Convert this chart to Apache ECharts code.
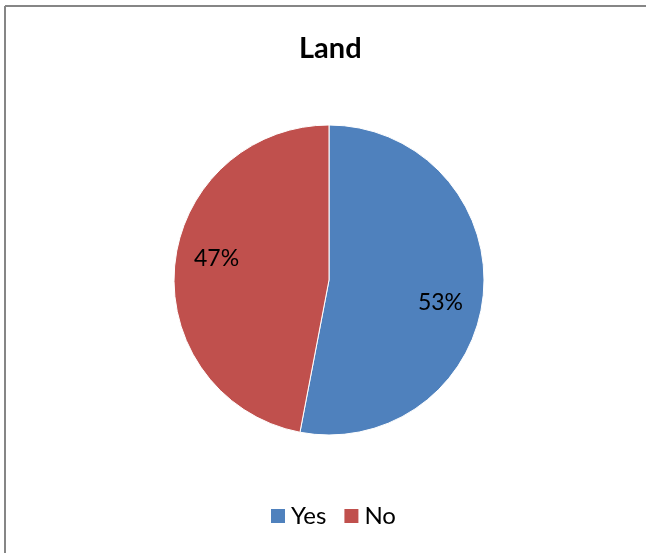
<!DOCTYPE html>
<html>
<head>
<meta charset="utf-8">
<script src="https://cdn.jsdelivr.net/npm/echarts@6/dist/echarts.min.js"></script>
<style>
  html, body { margin: 0; padding: 0; background: #fff; }
  #chart { width: 646px; height: 553px; }
</style>
</head>
<body>
<div id="chart"></div>
<script>
// Share of respondents with land
const categories = ['Yes', 'No'];
const shares = [53, 47];
const sliceColors = ['#4F81BD', '#C0504D'];
// small nudges for the percentage labels
const labelNudges = [[-3, 12], [2, -11]];

const font = 'Lato, "Open Sans", sans-serif';

const pieData = categories.map((name, i) => ({
  name: name,
  value: shares[i],
  itemStyle: { color: sliceColors[i] }
}));

const labelData = categories.map((name, i) => ({
  name: name,
  value: shares[i],
  label: { offset: labelNudges[i] }
}));

const chart = echarts.init(document.getElementById('chart'), null, { renderer: 'canvas' });
chart.setOption({
  backgroundColor: '#ffffff',
  animation: false,
  title: {
    text: 'Land',
    left: 294,
    top: 29,
    textStyle: { fontFamily: font, fontWeight: 'bold', fontSize: 29, color: '#000' }
  },
  legend: {
    data: categories,
    bottom: 20,
    left: 266,
    icon: 'rect',
    itemWidth: 14,
    itemHeight: 14,
    itemGap: 18,
    itemStyle: { borderWidth: 0 },
    textStyle: { fontFamily: font, fontSize: 24, color: '#000', lineHeight: 24, padding: [0, 0, 0, 1] }
  },
  graphic: [
    { type: 'line', shape: { x1: 5, y1: 6, x2: 646, y2: 6 }, style: { stroke: '#868686', lineWidth: 2 } },
    { type: 'line', shape: { x1: 5, y1: 6, x2: 5, y2: 553 }, style: { stroke: '#868686', lineWidth: 2 } }
  ],
  series: [
    {
      type: 'pie',
      center: [329, 280],
      radius: [0, 155],
      startAngle: 90,
      clockwise: true,
      label: { show: false },
      labelLine: { show: false },
      itemStyle: { borderColor: '#ffffff', borderWidth: 1 },
      emphasis: { disabled: true },
      data: pieData
    },
    {
      // transparent ring that carries the percentage labels
      type: 'pie',
      center: [329, 280],
      radius: [69, 155],
      startAngle: 90,
      clockwise: true,
      silent: true,
      legendHoverLink: false,
      itemStyle: { color: 'rgba(0,0,0,0)' },
      label: {
        show: true,
        position: 'inside',
        formatter: '{c}%',
        fontFamily: font,
        fontSize: 23,
        color: '#000'
      },
      labelLine: { show: false },
      emphasis: { disabled: true },
      data: labelData
    }
  ]
});
</script>
</body>
</html>
